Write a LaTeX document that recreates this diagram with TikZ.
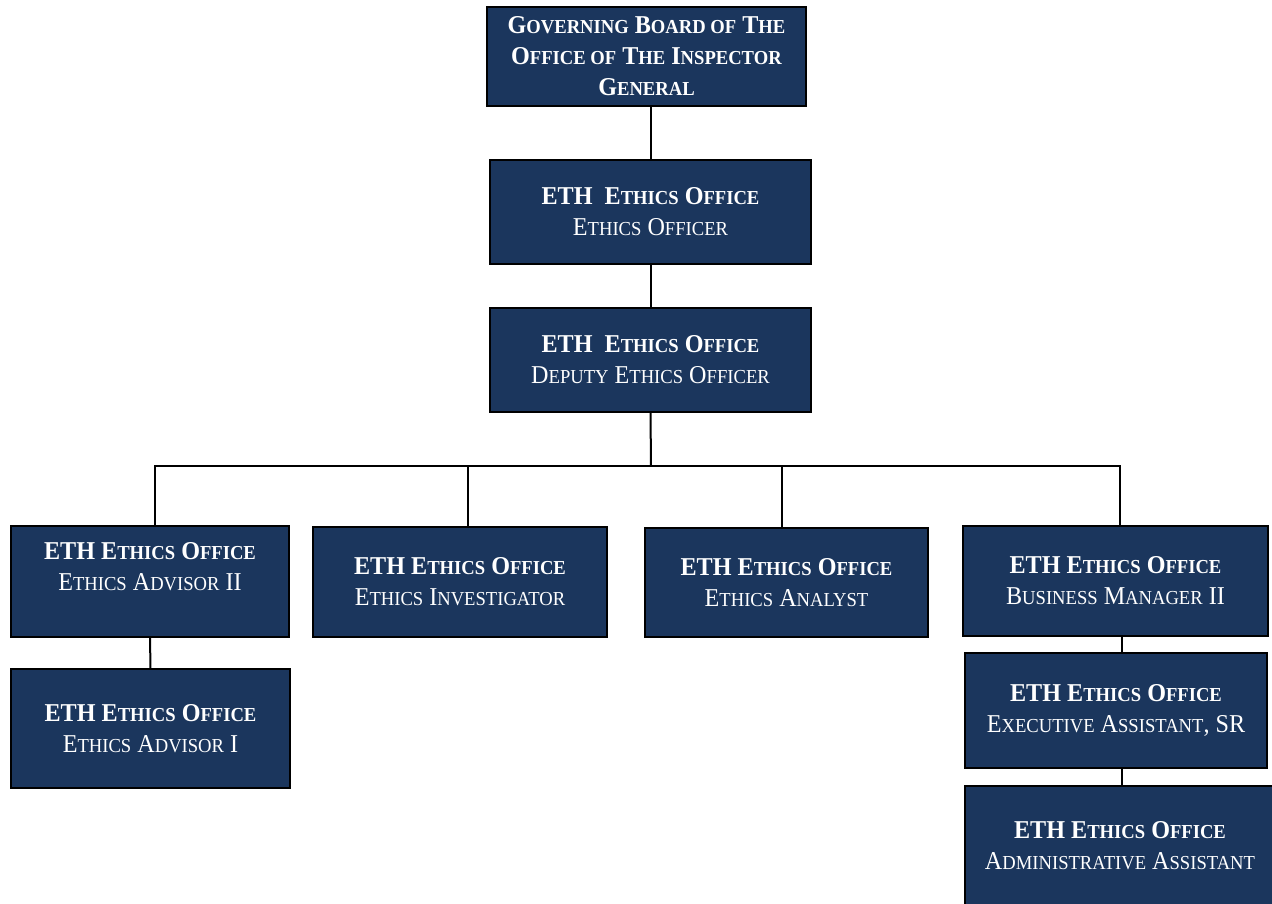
\documentclass[tikz,border=0pt]{standalone}
\usepackage{fontspec}
\setmainfont[FakeStretch=0.94]{Liberation Serif}
\definecolor{navy}{HTML}{1B365D}
\newcommand\smc[1]{{\fontsize{19.8pt}{31pt}\selectfont #1}}
\newcommand\hd{\textbf{ETH E\smc{THICS} O\smc{FFICE}}}
\newcommand\hdd{\textbf{ETH~~E\smc{THICS} O\smc{FFICE}}}
\begin{document}
\begin{tikzpicture}[x=1pt,y=-1pt,
  box/.style={draw=black, line width=1.8pt, fill=navy, text=white, align=center,
    inner sep=0pt, font=\fontsize{25.7pt}{31pt}\selectfont},
  conn/.style={line width=2pt, black}]
\fill[white] (0,0) rectangle (1272,903);
\clip (0,0) rectangle (1272,903);
% top levels
\node[box, minimum width=319pt, minimum height=99pt] (top) at (646.5,56.5)
  {\textbf{G\smc{OVERNING} B\smc{OARD OF} T\smc{HE}}\\
   \textbf{O\smc{FFICE OF} T\smc{HE} I\smc{NSPECTOR}}\\
   \textbf{G\smc{ENERAL}}};
\node[box, minimum width=321pt, minimum height=104pt] (eo) at (650.5,212)
  {\hdd\\ E\smc{THICS} O\smc{FFICER}};
\node[box, minimum width=321pt, minimum height=104pt] (deo) at (650.5,360)
  {\hdd\\ D\smc{EPUTY} E\smc{THICS} O\smc{FFICER}};
% row
\node[box, minimum width=278pt, minimum height=111pt] (adv2) at (150,581.5)
  {\hd\\ E\smc{THICS} A\smc{DVISOR} II\\ \mbox{}};
\node[box, minimum width=294pt, minimum height=110pt] (inv) at (460,582)
  {\hd\\ E\smc{THICS} I\smc{NVESTIGATOR}};
\node[box, minimum width=283pt, minimum height=109pt] (ana) at (786.5,582.5)
  {\hd\\ E\smc{THICS} A\smc{NALYST}};
\node[box, minimum width=305pt, minimum height=110pt] (bus) at (1115.5,581)
  {\hd\\ B\smc{USINESS} M\smc{ANAGER} II};
% lower
\node[box, minimum width=279pt, minimum height=119pt] (adv1) at (150.5,728.5)
  {\hd\\ E\smc{THICS} A\smc{DVISOR} I};
\node[box, minimum width=302pt, minimum height=115pt] (exa) at (1116,710.5)
  {\hd\\ E\smc{XECUTIVE} A\smc{SSISTANT}, SR};
\node[box, minimum width=310pt, minimum height=120pt] (adm) at (1120,846)
  {\hd\\ A\smc{DMINISTRATIVE} A\smc{SSISTANT}};
% connectors
\coordinate (bl) at (155,466);
\coordinate (br) at (1120,466);
\coordinate (jB) at (468,466);
\coordinate (jC) at (782,466);
\coordinate (jD) at (651,466);
\draw[conn] (top.south -| eo.north) -- (eo.north);
\draw[conn] (eo.south) -- (deo.north);
\draw[conn] (deo.south) -- (jD);
\draw[conn] (bl |- adv2.north) -- (bl) -- (br) -- (br |- bus.north);
\draw[conn] (jB) -- (jB |- inv.north);
\draw[conn] (jC) -- (jC |- ana.north);
\draw[conn] (adv2.south) -- (adv1.north);
\draw[conn] ([xshift=6pt]bus.south) -- ([xshift=6pt]bus.south |- exa.north);
\draw[conn] ([xshift=6pt]exa.south) -- ([xshift=6pt]exa.south |- adm.north);
\end{tikzpicture}
\end{document}
